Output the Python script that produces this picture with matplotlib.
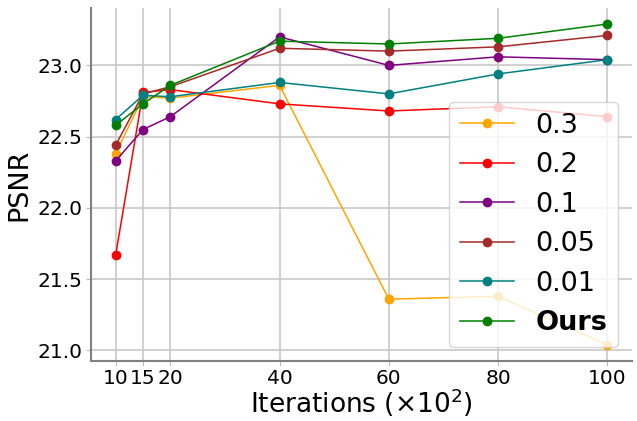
import matplotlib
matplotlib.use('Agg')
import matplotlib.pyplot as plt

iters = [10, 15, 20, 40, 60, 80, 100]
labels = ['0.3', '0.2', '0.1', '0.05', '0.01', 'Ours']
colors = ['orange', 'red', 'purple', 'brown', 'teal', 'green']

psnr_03 = [22.38, 22.78, 22.77, 22.86, 21.36, 21.38, 21.04]
psnr_02 = [21.67, 22.81, 22.83, 22.73, 22.68, 22.71, 22.64]
psnr_01 = [22.33, 22.55, 22.64, 23.20, 23.00, 23.06, 23.04]
psnr_005 = [22.44, 22.80, 22.85, 23.12, 23.10, 23.13, 23.21]
psnr_001 = [22.62, 22.79, 22.78, 22.88, 22.80, 22.94, 23.04]
psnr_ours = [22.58, 22.73, 22.86, 23.17, 23.15, 23.19, 23.29]
series = [psnr_03, psnr_02, psnr_01, psnr_005, psnr_001, psnr_ours]

fig = plt.figure(figsize=(6.37, 4.21), dpi=100)
ax = fig.add_subplot(111)
fig.subplots_adjust(left=0.143, right=0.992, top=0.981, bottom=0.143)

for ys, lab, c in zip(series, labels, colors):
    ax.plot(iters, ys, marker='o', markersize=6, linewidth=1.1, color=c, label=lab)

ax.set_xticks(iters)
ax.set_yticks([21.0, 21.5, 22.0, 22.5, 23.0])
ax.tick_params(axis='both', labelsize=14.5, color='#bbbbbb', length=3.5, pad=2.5)
ax.grid(True, color='#c8c8c8', linewidth=1.2)
ax.set_axisbelow(True)
for side in ['top', 'right']:
    ax.spines[side].set_visible(False)
for side in ['left', 'bottom']:
    ax.spines[side].set_color('#808080')
    ax.spines[side].set_linewidth(1.5)

ax.set_xlabel(r'Iterations ($\times10^2$)', fontsize=19, labelpad=-1.2)
ax.set_ylabel('PSNR', fontsize=19.5, labelpad=4)

leg = ax.legend(loc='lower right', fontsize=19.5, handlelength=2.0)
leg.get_texts()[-1].set_fontweight('bold')

fig.savefig('out.png', dpi=100)
